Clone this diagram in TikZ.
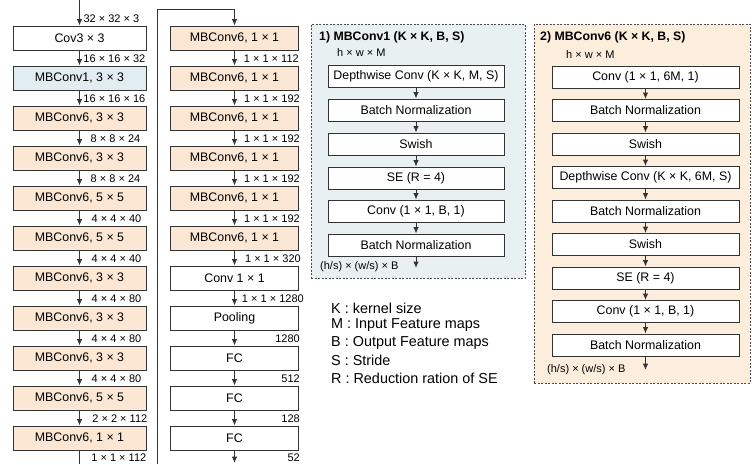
\documentclass[tikz,border=0pt]{standalone}
\usepackage{fontspec}
\setmainfont{Liberation Sans}
\definecolor{peach}{HTML}{FBE7D3}
\definecolor{iceblue}{HTML}{E1EDF1}
\definecolor{panelblue}{HTML}{E9F0F1}
\definecolor{panelpeach}{HTML}{FDEDDD}
\definecolor{edgegray}{HTML}{333333}
\usepackage{tikz}
\usetikzlibrary{
    arrows.meta,
    positioning
}
\tikzstyle{block} = [
    rectangle,
    draw=edgegray,
    line width=0.9pt,
    fill=white,
    minimum width=133,
    minimum height=24,
    inner sep=0pt,
    font=\fontsize{12.4}{14}\selectfont
]
\tikzstyle{mbone} = [block, fill=iceblue]
\tikzstyle{mbsix} = [block, fill=peach]
\tikzstyle{opbox} = [
    rectangle,
    draw=edgegray,
    line width=0.9pt,
    fill=white,
    minimum height=22,
    inner sep=0pt,
    font=\fontsize{12.4}{14}\selectfont
]
\tikzstyle{panel} = [
    rectangle,
    draw=black!70,
    line width=0.9pt,
    dash pattern=on 2pt off 1.5pt
]
\tikzstyle{paneltitle} = [
    anchor=west,
    inner sep=0pt,
    font=\bfseries\fontsize{12.3}{14}\selectfont
]
\tikzstyle{dims} = [
    anchor=base east,
    inner sep=0pt,
    font=\fontsize{11}{13}\selectfont
]
\tikzstyle{keyline} = [
    anchor=west,
    inner sep=0pt,
    font=\fontsize{14.4}{17}\selectfont
]
\tikzstyle{flow} = [
    -{Latex[length=6.5pt,width=5.5pt]},
    line width=1pt,
    draw=edgegray
]
\begin{document}
\begin{tikzpicture}[x=1pt, y=-1pt]
        \useasboundingbox (0,0) rectangle (752,464);

        % First column
        \node[block] (c1a) at (79.5, 38) {Cov3 × 3};
        \node[mbone] (c1b) at (79.5, 78) {MBConv1, 3 × 3};
        \node[mbsix] (c1c) at (79.5, 118) {MBConv6, 3 × 3};
        \node[mbsix] (c1d) at (79.5, 158) {MBConv6, 3 × 3};
        \node[mbsix] (c1e) at (79.5, 198) {MBConv6, 5 × 5};
        \node[mbsix] (c1f) at (79.5, 238) {MBConv6, 5 × 5};
        \node[mbsix] (c1g) at (79.5, 278) {MBConv6, 3 × 3};
        \node[mbsix] (c1h) at (79.5, 318) {MBConv6, 3 × 3};
        \node[mbsix] (c1i) at (79.5, 358) {MBConv6, 3 × 3};
        \node[mbsix] (c1j) at (79.5, 398) {MBConv6, 5 × 5};
        \node[mbsix] (c1k) at (79.5, 438) {MBConv6, 1 × 1};
        \coordinate (c1in) at (79.5, 0);
        \coordinate (c1out) at (79.5, 464);

        % First column sizes
        \node[dims] (d1a) at ([xshift=-7pt, yshift=3pt]c1a.north east) {32 × 32 × 3};
        \node[dims] (d1b) at ([xshift=-1pt, yshift=3pt]c1b.north east) {16 × 16 × 32};
        \node[dims] (d1c) at ([xshift=-1pt, yshift=3pt]c1c.north east) {16 × 16 × 16};
        \node[dims] (d1d) at ([xshift=-6pt, yshift=3pt]c1d.north east) {8 × 8 × 24};
        \node[dims] (d1e) at ([xshift=-6pt, yshift=3pt]c1e.north east) {8 × 8 × 24};
        \node[dims] (d1f) at ([xshift=-5pt, yshift=3pt]c1f.north east) {4 × 4 × 40};
        \node[dims] (d1g) at ([xshift=-5pt, yshift=3pt]c1g.north east) {4 × 4 × 40};
        \node[dims] (d1h) at ([xshift=-5pt, yshift=3pt]c1h.north east) {4 × 4 × 80};
        \node[dims] (d1i) at ([xshift=-5pt, yshift=3pt]c1i.north east) {4 × 4 × 80};
        \node[dims] (d1j) at ([xshift=-5pt, yshift=3pt]c1j.north east) {4 × 4 × 80};
        \node[dims] (d1k) at ([xshift=1pt, yshift=3pt]c1k.north east) {2 × 2 × 112};
        \node[dims] (d1l) at ([xshift=0pt, yshift=-11pt]c1k.south east) {1 × 1 × 112};

        % Second column
        \node[mbsix, minimum width=128] (c2a) at (234.5, 38) {MBConv6, 1 × 1};
        \node[mbsix, minimum width=128] (c2b) at (234.5, 78) {MBConv6, 1 × 1};
        \node[mbsix, minimum width=128] (c2c) at (234.5, 118) {MBConv6, 1 × 1};
        \node[mbsix, minimum width=128] (c2d) at (234.5, 158) {MBConv6, 1 × 1};
        \node[mbsix, minimum width=128] (c2e) at (234.5, 198) {MBConv6, 1 × 1};
        \node[mbsix, minimum width=128] (c2f) at (234.5, 238) {MBConv6, 1 × 1};
        \node[block, minimum width=128] (c2g) at (234.5, 278) {Conv 1 × 1};
        \node[block, minimum width=128] (c2h) at (234.5, 318) {Pooling};
        \node[block, minimum width=128] (c2i) at (234.5, 358) {FC};
        \node[block, minimum width=128] (c2j) at (234.5, 398) {FC};
        \node[block, minimum width=128] (c2k) at (234.5, 438) {FC};
        \coordinate (c2out) at (234.5, 463);
        \coordinate (lnkb) at (157, 464);
        \coordinate (lnkt) at (157, 9);

        % Second column sizes
        \node[dims] (d2b) at ([xshift=0pt, yshift=3pt]c2b.north east) {1 × 1 × 112};
        \node[dims] (d2c) at ([xshift=1pt, yshift=3pt]c2c.north east) {1 × 1 × 192};
        \node[dims] (d2d) at ([xshift=1pt, yshift=3pt]c2d.north east) {1 × 1 × 192};
        \node[dims] (d2e) at ([xshift=1pt, yshift=3pt]c2e.north east) {1 × 1 × 192};
        \node[dims] (d2f) at ([xshift=1pt, yshift=3pt]c2f.north east) {1 × 1 × 192};
        \node[dims] (d2g) at ([xshift=2pt, yshift=3pt]c2g.north east) {1 × 1 × 320};
        \node[dims] (d2h) at ([xshift=5pt, yshift=3pt]c2h.north east) {1 × 1 × 1280};
        \node[dims] (d2i) at ([xshift=1pt, yshift=3pt]c2i.north east) {1280};
        \node[dims] (d2j) at ([xshift=1pt, yshift=3pt]c2j.north east) {512};
        \node[dims] (d2k) at ([xshift=1pt, yshift=3pt]c2k.north east) {128};
        \node[dims] (d2l) at ([xshift=1pt, yshift=-11pt]c2k.south east) {52};

        % Column arrows
        \draw[flow] (c1in) -- (c1a);
        \draw[flow] (c1a) -- (c1b);
        \draw[flow] (c1b) -- (c1c);
        \draw[flow] (c1c) -- (c1d);
        \draw[flow] (c1d) -- (c1e);
        \draw[flow] (c1e) -- (c1f);
        \draw[flow] (c1f) -- (c1g);
        \draw[flow] (c1g) -- (c1h);
        \draw[flow] (c1h) -- (c1i);
        \draw[flow] (c1i) -- (c1j);
        \draw[flow] (c1j) -- (c1k);
        \draw[flow, -] (c1k) -- (c1out);
        \draw[flow] (lnkb) -- (lnkt) -| (c2a);
        \draw[flow] (c2a) -- (c2b);
        \draw[flow] (c2b) -- (c2c);
        \draw[flow] (c2c) -- (c2d);
        \draw[flow] (c2d) -- (c2e);
        \draw[flow] (c2e) -- (c2f);
        \draw[flow] (c2f) -- (c2g);
        \draw[flow] (c2g) -- (c2h);
        \draw[flow] (c2h) -- (c2i);
        \draw[flow] (c2i) -- (c2j);
        \draw[flow] (c2j) -- (c2k);
        \draw[flow] (c2k) -- (c2out);

        % MBConv1 panel
        \node[panel, fill=panelblue, minimum width=214, minimum height=254] (pone) at (418, 151) {};
        \node[paneltitle] (tone) at (319, 37) {1) MBConv1 (K × K, B, S)};
        \node[dims, anchor=west] (ione) at (337, 53) {h × w × M};
        \node[opbox, minimum width=176] (oa) at (416, 76) {Depthwise Conv (K × K, M, S)};
        \node[opbox, minimum width=176] (ob) at (416, 110) {Batch Normalization};
        \node[opbox, minimum width=176] (oc) at (416, 144) {Swish};
        \node[opbox, minimum width=176] (od) at (416, 178) {SE (R = 4)};
        \node[opbox, minimum width=176] (oe) at (416, 211) {Conv (1 × 1, B, 1)};
        \node[opbox, minimum width=176] (of) at (416, 245) {Batch Normalization};
        \node[dims, anchor=west] (uone) at (320, 267) {(h/s) × (w/s) × B};
        \coordinate (oout) at (416, 268);
        \draw[flow] (oa) -- (ob);
        \draw[flow] (ob) -- (oc);
        \draw[flow] (oc) -- (od);
        \draw[flow] (od) -- (oe);
        \draw[flow] (oe) -- (of);
        \draw[flow] (of) -- (oout);

        % MBConv6 panel
        \node[panel, fill=panelpeach, minimum width=216, minimum height=359] (psix) at (642, 203.5) {};
        \node[paneltitle] (tsix) at (540, 37) {2) MBConv6 (K × K, B, S)};
        \node[dims, anchor=west] (isix) at (566, 55) {h × w × M};
        \node[opbox, minimum width=187] (sa) at (645.5, 77) {Conv (1 × 1, 6M, 1)};
        \node[opbox, minimum width=187] (sb) at (645.5, 110.5) {Batch Normalization};
        \node[opbox, minimum width=187] (sc) at (645.5, 144) {Swish};
        \node[opbox, minimum width=187] (sd) at (645.5, 177.5) {Depthwise Conv (K × K, 6M, S)};
        \node[opbox, minimum width=187] (se) at (645.5, 211) {Batch Normalization};
        \node[opbox, minimum width=187] (sf) at (645.5, 244.5) {Swish};
        \node[opbox, minimum width=187] (sg) at (645.5, 278) {SE (R = 4)};
        \node[opbox, minimum width=187] (sh) at (645.5, 311.5) {Conv (1 × 1, B, 1)};
        \node[opbox, minimum width=187] (si) at (645.5, 345) {Batch Normalization};
        \node[dims, anchor=west] (usix) at (547, 370) {(h/s) × (w/s) × B};
        \coordinate (sout) at (645.5, 370);
        \draw[flow] (sa) -- (sb);
        \draw[flow] (sb) -- (sc);
        \draw[flow] (sc) -- (sd);
        \draw[flow] (sd) -- (se);
        \draw[flow] (se) -- (sf);
        \draw[flow] (sf) -- (sg);
        \draw[flow] (sg) -- (sh);
        \draw[flow] (sh) -- (si);
        \draw[flow] (si) -- (sout);

        % Legend
        \node[keyline] (kk) at (331, 308) {K : kernel size};
        \node[keyline] (km) at (331, 325.5) {M : Input Feature maps};
        \node[keyline] (kb) at (331, 343) {B : Output Feature maps};
        \node[keyline] (ks) at (331, 360.5) {S : Stride};
        \node[keyline] (kr) at (331, 378) {R : Reduction ration of SE};
    \end{tikzpicture}
\end{document}
